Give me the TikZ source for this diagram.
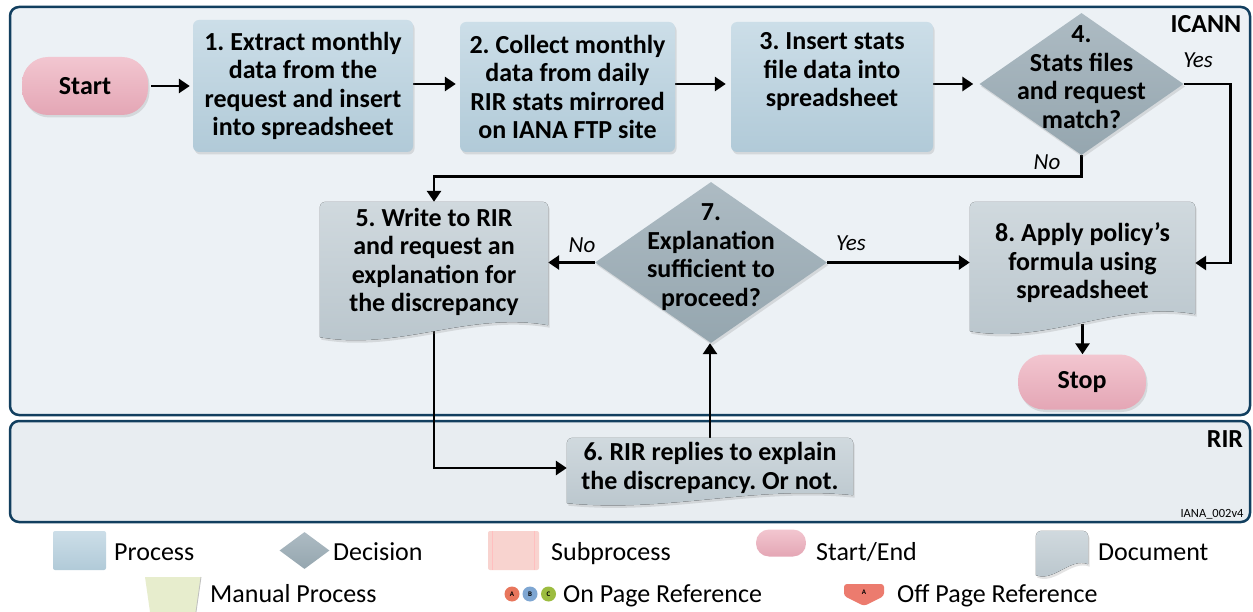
\documentclass[tikz,border=0pt]{standalone}
\usepackage{fontspec}
\setmainfont{Carlito}
\frenchspacing
\usetikzlibrary{arrows.meta,shapes.geometric,shadows,calc}
\definecolor{lanebd}{HTML}{123F5F}
\definecolor{lanefill}{HTML}{ECF1F5}
\definecolor{rirfill}{HTML}{E8EDF1}
\definecolor{proctop}{HTML}{CCDEE8}
\definecolor{procbot}{HTML}{B1CAD8}
\definecolor{dectop}{HTML}{ADBBC3}
\definecolor{decbot}{HTML}{95A6AF}
\definecolor{doctop}{HTML}{D0D9DE}
\definecolor{docbot}{HTML}{B9C5CC}
\definecolor{pilltop}{HTML}{F2C6D0}
\definecolor{pillbot}{HTML}{E4A6B5}
\definecolor{subfill}{HTML}{F8D3CF}
\definecolor{manfill}{HTML}{E7EDCD}
\definecolor{cA}{HTML}{E8765C}
\definecolor{cB}{HTML}{7EA6D2}
\definecolor{cC}{HTML}{9CBC3F}
\definecolor{offc}{HTML}{EC7B6E}
\pgfdeclarelayer{lanes}
\pgfdeclarelayer{edges}
\pgfdeclarelayer{docs}
\pgfsetlayers{lanes,edges,docs,main}
% document background: node name, left extra, right extra, wave amplitude
\newcommand\docbg[4]{%
  \fill[shd, top color=doctop, bottom color=docbot]
    ($(#1.south west)+(0,#2)$) [rounded corners=5pt] -- (#1.north west) -- (#1.north east) [sharp corners] -- ($(#1.south east)+(0,#3)$)
    .. controls ($(#1.south east)!0.35!(#1.south west)+(0,#3-#4)$) and ($(#1.south east)!0.65!(#1.south west)+(0,#2+#4)$) .. ($(#1.south west)+(0,#2)$) -- cycle;}
\begin{document}
\begin{tikzpicture}[x=1pt,y=-1pt,
  arr/.style={line width=2.8pt, -{Triangle[length=11pt,width=14pt]}},
  shd/.style={drop shadow={opacity=0.22, shadow xshift=1.5pt, shadow yshift=-2.5pt}},
  bold/.style={font=\bfseries\fontsize{26}{28.5}\selectfont},
  proc/.style={shd, top color=proctop, bottom color=procbot, rounded corners=6pt, align=center, bold, inner sep=0pt},
  pill/.style={shd, top color=pilltop, bottom color=pillbot, rounded corners=26pt, bold, inner sep=0pt},
  dec/.style={diamond, shd, top color=dectop, bottom color=decbot, inner sep=0pt},
  dtxt/.style={align=center, bold, inner sep=0pt},
  doctxt/.style={align=center, bold, inner sep=0pt},
  yn/.style={font=\itshape\fontsize{23}{25}\selectfont, inner sep=0pt},
  lane/.style={draw=lanebd, line width=2.5pt, rounded corners=9pt},
  leg/.style={font=\fontsize{26}{28}\selectfont, anchor=base west, inner sep=0pt},
]
\useasboundingbox (0,0) rectangle (1253,612);

% lanes
\begin{pgfonlayer}{lanes}
\fill[white] (0,0) rectangle (1253,612);
\draw[lane, fill=lanefill] (10,7) rectangle (1250,415);
\draw[lane, fill=rirfill] (10,421) rectangle (1250,522);
\end{pgfonlayer}

% nodes
\node[pill, minimum width=126pt, minimum height=58pt] (start) at (85,86) {Start};
\node[proc, minimum width=220pt, minimum height=132pt] (s1) at (303,86) {1. Extract monthly\\data from the\\request and insert\\into spreadsheet};
\node[proc, minimum width=215pt, minimum height=130pt] (s2) at (567.5,87) {2. Collect monthly\\data from daily\\RIR stats mirrored\\on IANA FTP site};
\node[proc, minimum width=202pt, minimum height=130pt] (s3) at (832,87) {3. Insert stats\\file data into\\spreadsheet\\[6pt]};
\node[dec, minimum width=204pt, minimum height=142pt] (d4) at (1081.5,84) {};
\node[dtxt] (d4t) at (1081.5,77) {4.\\Stats files\\and request\\match?};
\node[yn] (y4) at (1198,60) {Yes};
\node[yn] (n4) at (1047,162) {No};

\node[doctxt, minimum width=228pt, minimum height=120pt] (s5) at (434,262) {5. Write to RIR\\and request an\\explanation for\\the discrepancy};
\node[dec, minimum width=232pt, minimum height=161pt] (d7) at (711,262.5) {};
\node[dtxt] (d7t) at (711,257) {7.\\Explanation\\sufficient to\\proceed?};
\node[yn] (n7) at (582,245) {No};
\node[yn] (y7) at (851,243) {Yes};
\node[doctxt, minimum width=225pt, minimum height=122pt] (s8) at (1082.5,263) {8. Apply policy’s\\formula using\\spreadsheet};
\node[pill, minimum width=128pt, minimum height=55pt] (stop) at (1082,382) {Stop};
\node[doctxt, minimum width=286pt, minimum height=60pt] (s6) at (710,468) {6. RIR replies to explain\\the discrepancy. Or not.};

\node[bold, inner sep=0pt] (icann) at (1206,24) {ICANN};
\node[bold, inner sep=0pt] (rir) at (1225,439) {RIR};
\node[font=\fontsize{12.5}{14}\selectfont, inner sep=0pt] (ver) at (1212,514) {IANA\_002v4};

% document backgrounds
\begin{pgfonlayer}{docs}
\docbg{s5}{15}{3}{14}
\docbg{s8}{7}{-10}{14}
\docbg{s6}{5}{-3}{10}
\end{pgfonlayer}

% connectors
\begin{pgfonlayer}{edges}
\draw[arr] ([xshift=3pt]start.east) -- ([xshift=-3pt]s1.west |- start.east);
\draw[arr] (s1.east |- 0,84) -- ([xshift=-4pt]s2.west |- 0,84);
\draw[arr] (s2.east |- 0,84) -- ([xshift=-5pt]s3.west |- 0,84);
\draw[arr] (s3.east |- d4.west) -- ([xshift=-6pt]d4.west);
\draw[arr] (d4.east) -| ($(s8.east)+(35,0)$) -- (s8.east);
\draw[arr] (d4.south) -- ++(0,21) -| (s5.north);
\draw[arr] (d7.west) -- (s5.east |- d7.west);
\draw[arr] (d7.east) -- (s8.west |- d7.east);
\draw[arr] (s5.south) |- (s6.west);
\draw[arr] (s6.north) -- (s6.north |- d7.south);
\draw[arr] (s8.south) -- (s8.south |- stop.north);
\end{pgfonlayer}

% legend
\node[top color=proctop, bottom color=procbot, rounded corners=2pt, minimum width=53pt, minimum height=39pt, inner sep=0pt] (lproc) at (79.5,550.5) {};
\node[leg] (tproc) at (114,560) {Process};
\node[diamond, top color=dectop, bottom color=decbot, minimum width=50pt, minimum height=37pt, inner sep=0pt] (ldec) at (304.5,550.5) {};
\node[leg] (tdec) at (333,560) {Decision};
\node[fill=subfill, rounded corners=2pt, minimum width=51pt, minimum height=39pt, inner sep=0pt] (lsub) at (513.5,550.5) {};
\draw[red!25, line width=0.8pt] ([xshift=5pt]lsub.north west) -- ([xshift=5pt]lsub.south west)
  ([xshift=-5pt]lsub.north east) -- ([xshift=-5pt]lsub.south east);
\node[leg] (tsub) at (551,560) {Subprocess};
\node[top color=pilltop, bottom color=pillbot, rounded corners=13pt, minimum width=50pt, minimum height=27pt, inner sep=0pt] (lse) at (781,543) {};
\node[leg] (tse) at (816,560) {Start/End};
\node[minimum width=52pt, minimum height=36pt, inner sep=0pt] (ldoc) at (1062,549) {};
\docbg{ldoc}{8}{-3}{7}
\node[leg] (tdoc) at (1098,560) {Document};

\fill[manfill] (145,577) -- (201,577) -- (196,612) -- (150,612) -- cycle;
\draw[black!25, line width=0.8pt] (201,577) -- (196,612);
\node[leg] (tman) at (210,602) {Manual Process};
\node[circle, fill=cA, minimum size=15pt, inner sep=0pt, font=\bfseries\fontsize{7}{8}\selectfont] (ca) at (512,594) {A};
\node[circle, fill=cB, minimum size=15pt, inner sep=0pt, font=\bfseries\fontsize{7}{8}\selectfont] (cb) at (530,594) {B};
\node[circle, fill=cC, minimum size=15pt, inner sep=0pt, font=\bfseries\fontsize{7}{8}\selectfont] (cc) at (548.5,594) {C};
\node[leg] (ton) at (563,602) {On Page Reference};
\fill[offc, rounded corners=3pt] (844,584) -- (884,584) -- (884,596) -- (864,606) -- (844,596) -- cycle;
\node[font=\bfseries\fontsize{7}{8}\selectfont, inner sep=0pt] (offa) at (864,592) {A};
\node[leg] (toff) at (897,602) {Off Page Reference};
\end{tikzpicture}
\end{document}
